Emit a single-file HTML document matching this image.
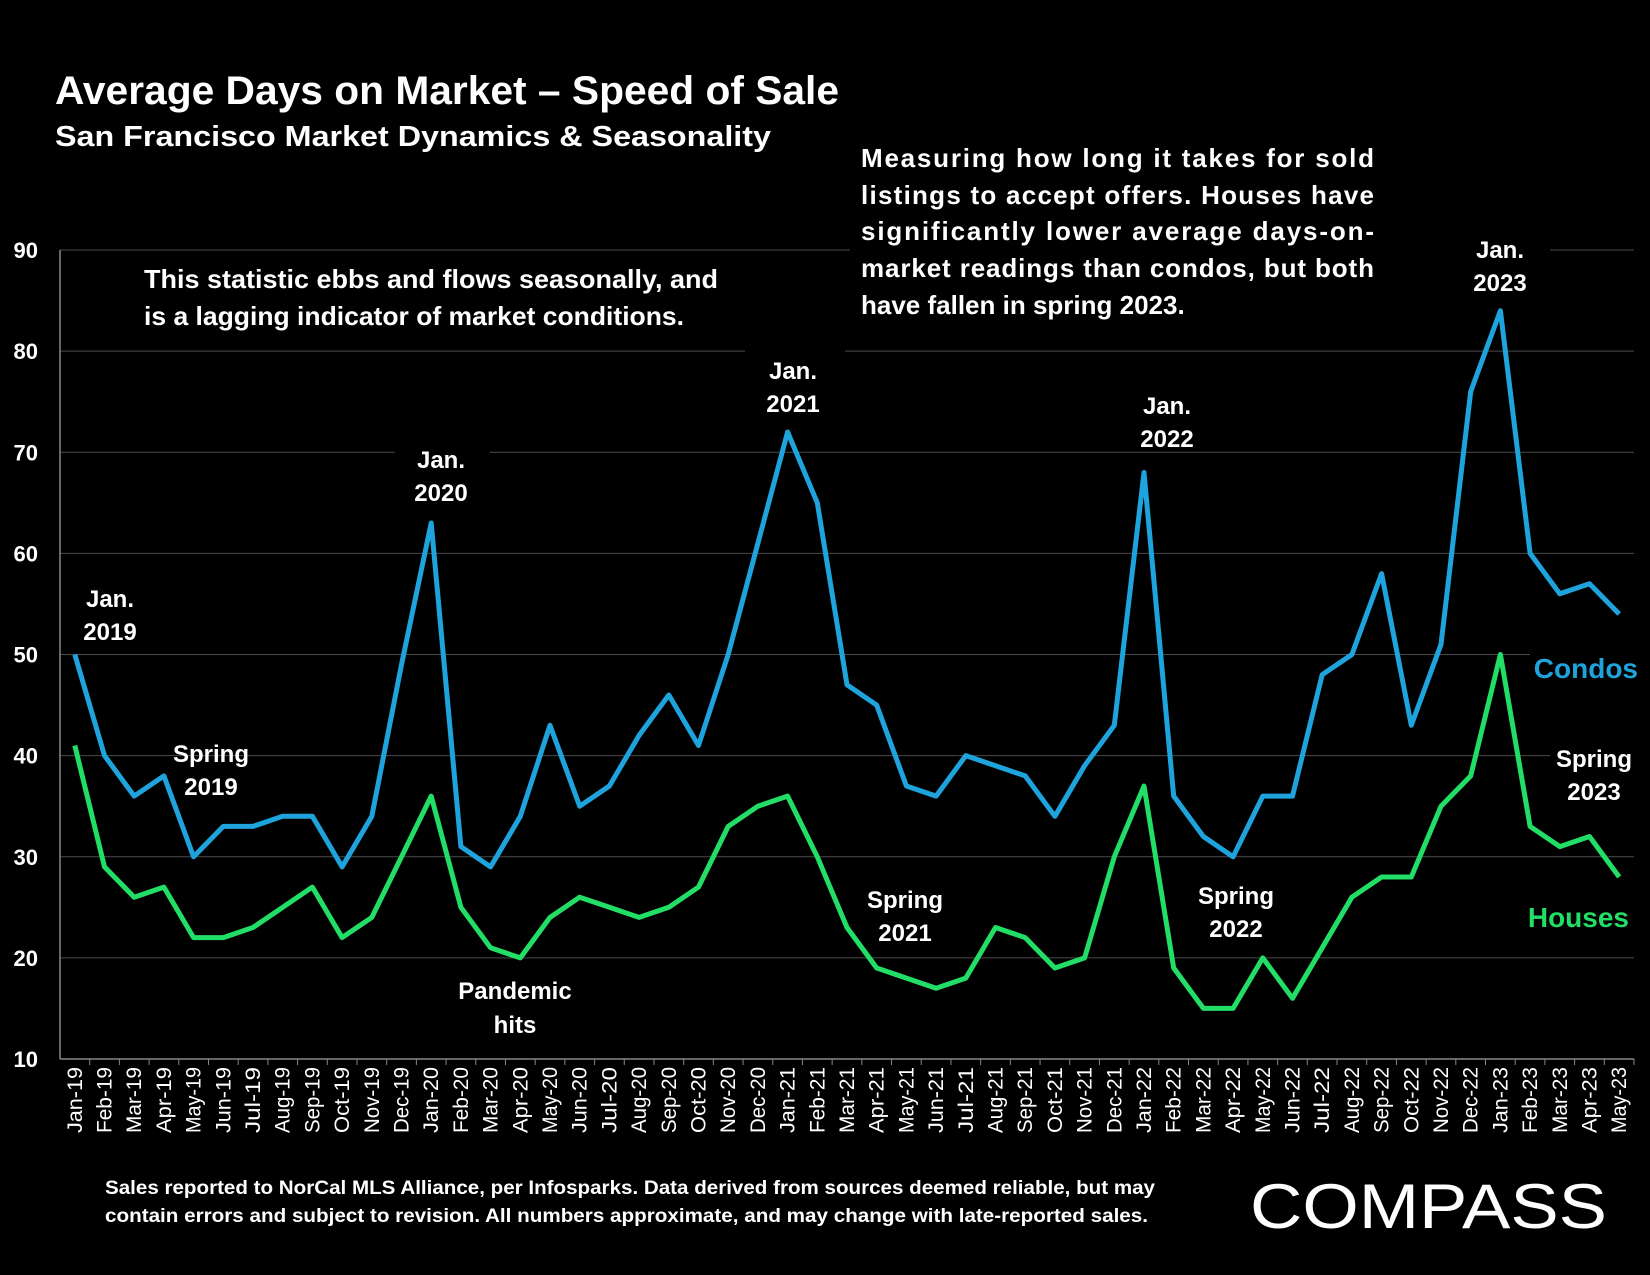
<!DOCTYPE html>
<html><head><meta charset="utf-8"><style>
html,body{margin:0;padding:0;background:#000;}
svg{display:block;font-family:"Liberation Sans",sans-serif;}
</style></head><body>
<svg id="chart" width="1650" height="1275" viewBox="0 0 1650 1275" xmlns="http://www.w3.org/2000/svg">
<rect width="1650" height="1275" fill="#000"/>
<g id="grid"></g>
<g id="masks" fill="#000">
<rect x="850" y="130" width="540" height="190"/>
<rect x="135" y="255" width="600" height="75"/>
<rect x="1385" y="225" width="165" height="75"/>
<rect x="745" y="345" width="100" height="70"/>
<rect x="1115" y="380" width="105" height="70"/>
<rect x="395" y="435" width="95" height="70"/>
<rect x="60" y="575" width="130" height="70"/>
<rect x="1530" y="640" width="110" height="40"/>
<rect x="1550" y="735" width="90" height="70"/>
<rect x="1520" y="890" width="115" height="40"/>
</g>
<g id="axes"></g>
<g id="series"></g>
<g fill="#fff" font-weight="bold">
<text x="55" y="104" font-size="40" textLength="784" lengthAdjust="spacingAndGlyphs">Average Days on Market – Speed of Sale</text>
<text x="55" y="146" font-size="29" textLength="716" lengthAdjust="spacingAndGlyphs">San Francisco Market Dynamics &amp; Seasonality</text>
</g>
<g fill="#fff" font-weight="bold" font-size="26">
<text x="861" y="167" textLength="513" lengthAdjust="spacing">Measuring how long it takes for sold</text>
<text x="861" y="204" textLength="513" lengthAdjust="spacing">listings to accept offers. Houses have</text>
<text x="861" y="240" textLength="513" lengthAdjust="spacing">significantly lower average days-on-</text>
<text x="861" y="277" textLength="513" lengthAdjust="spacing">market readings than condos, but both</text>
<text x="861" y="314">have fallen in spring 2023.</text>
</g>
<g fill="#fff" font-weight="bold" font-size="26">
<text x="144" y="288" textLength="574" lengthAdjust="spacingAndGlyphs">This statistic ebbs and flows seasonally, and</text>
<text x="144" y="325" textLength="540" lengthAdjust="spacingAndGlyphs">is a lagging indicator of market conditions.</text>
</g>
<g fill="#fff" font-weight="bold" font-size="24" text-anchor="middle">
<text x="110" y="607">Jan.<tspan x="110" dy="33">2019</tspan></text>
<text x="211" y="762">Spring<tspan x="211" dy="33">2019</tspan></text>
<text x="441" y="468">Jan.<tspan x="441" dy="33">2020</tspan></text>
<text x="515" y="999">Pandemic<tspan x="515" dy="34">hits</tspan></text>
<text x="793" y="379">Jan.<tspan x="793" dy="33">2021</tspan></text>
<text x="905" y="908">Spring<tspan x="905" dy="33">2021</tspan></text>
<text x="1167" y="414">Jan.<tspan x="1167" dy="33">2022</tspan></text>
<text x="1236" y="904">Spring<tspan x="1236" dy="33">2022</tspan></text>
<text x="1500" y="258">Jan.<tspan x="1500" dy="33">2023</tspan></text>
<text x="1594" y="767">Spring<tspan x="1594" dy="33">2023</tspan></text>
</g>
<text x="1638" y="678" text-anchor="end" fill="#1fa3dc" font-weight="bold" font-size="28">Condos</text>
<text x="1629" y="927" text-anchor="end" fill="#22dd66" font-weight="bold" font-size="28">Houses</text>
<g fill="#fff" font-weight="bold" font-size="19">
<text x="105" y="1194" textLength="1050" lengthAdjust="spacingAndGlyphs">Sales reported to NorCal MLS Alliance, per Infosparks. Data derived from sources deemed reliable, but may</text>
<text x="105" y="1222" textLength="1043" lengthAdjust="spacingAndGlyphs">contain errors and subject to revision. All numbers approximate, and may change with late-reported sales.</text>
</g>
<text x="1250" y="1228" fill="#fff" font-size="63" textLength="357" lengthAdjust="spacingAndGlyphs">COMPASS</text>
</svg>
<script>
const categories = ["Jan-19","Feb-19","Mar-19","Apr-19","May-19","Jun-19","Jul-19","Aug-19","Sep-19","Oct-19","Nov-19","Dec-19","Jan-20","Feb-20","Mar-20","Apr-20","May-20","Jun-20","Jul-20","Aug-20","Sep-20","Oct-20","Nov-20","Dec-20","Jan-21","Feb-21","Mar-21","Apr-21","May-21","Jun-21","Jul-21","Aug-21","Sep-21","Oct-21","Nov-21","Dec-21","Jan-22","Feb-22","Mar-22","Apr-22","May-22","Jun-22","Jul-22","Aug-22","Sep-22","Oct-22","Nov-22","Dec-22","Jan-23","Feb-23","Mar-23","Apr-23","May-23"];
const condos = [50,40,36,38,30,33,33,34,34,29,34,49,63,31,29,34,43,35,37,42,46,41,50,61,72,65,47,45,37,36,40,39,38,34,39,43,68,36,32,30,36,36,48,50,58,43,51,76,84,60,56,57,54];
const houses = [41,29,26,27,22,22,23,25,27,22,24,30,36,25,21,20,24,26,25,24,25,27,33,35,36,30,23,19,18,17,18,23,22,19,20,30,37,19,15,15,20,16,21,26,28,28,35,38,50,33,31,32,28];
const yTicks = [10,20,30,40,50,60,70,80,90];
const NS="http://www.w3.org/2000/svg";
const X0=60, X1=1634, Y0=1059, Y1=250, YMIN=10, YMAX=90;
const band=(X1-X0)/categories.length;
function xs(i){return X0+band*(i+0.5);}
function ys(v){return Y0-(v-YMIN)/(YMAX-YMIN)*(Y0-Y1);}
function mk(tag,attrs,parent){const e=document.createElementNS(NS,tag);for(const k in attrs)e.setAttribute(k,attrs[k]);parent.appendChild(e);return e;}
const grid=document.getElementById('grid'), axes=document.getElementById('axes'), series=document.getElementById('series');
yTicks.forEach(t=>{
  if(t>YMIN){const l=mk('line',{x1:X0,x2:X1,y1:ys(t),y2:ys(t),stroke:'#4a4a4a','stroke-width':1},grid);
  
  }
  const tx=mk('text',{x:38,y:ys(t)+8,'text-anchor':'end',fill:'#fff','font-size':22,'font-weight':'bold'},axes);
  tx.textContent=t;
  
  
});
const ya=mk('line',{x1:X0,x2:X0,y1:Y1,y2:Y0,stroke:'#888','stroke-width':1.5},axes);


const xa=mk('line',{x1:X0,x2:X1,y1:Y0,y2:Y0,stroke:'#888','stroke-width':1.5},axes);


categories.forEach((c,i)=>{
  const tk=mk('line',{x1:X0+band*(i+1),x2:X0+band*(i+1),y1:Y0,y2:Y0+6,stroke:'#888','stroke-width':1},axes);
  
  
  const x=xs(i)+7, y=Y0+8;
  const tx=mk('text',{x:x,y:y,transform:`rotate(-90 ${x} ${y})`,'text-anchor':'end',fill:'#fff','font-size':21,textLength:66,lengthAdjust:'spacingAndGlyphs','font-family':'"Liberation Sans Narrow","Liberation Sans",sans-serif'},axes);
  tx.textContent=c;
  
  
});
function line(vals,color,name){
  const d=vals.map((v,i)=>(i?'L':'M')+xs(i).toFixed(1)+' '+ys(v).toFixed(1)).join(' ');
  const p=mk('path',{d:d,fill:'none',stroke:color,'stroke-width':5,'stroke-linejoin':'round'},series);
  
  
}
line(condos,'#1fa3dc','condos-line');
line(houses,'#22dd66','houses-line');
</script>
</body></html>
